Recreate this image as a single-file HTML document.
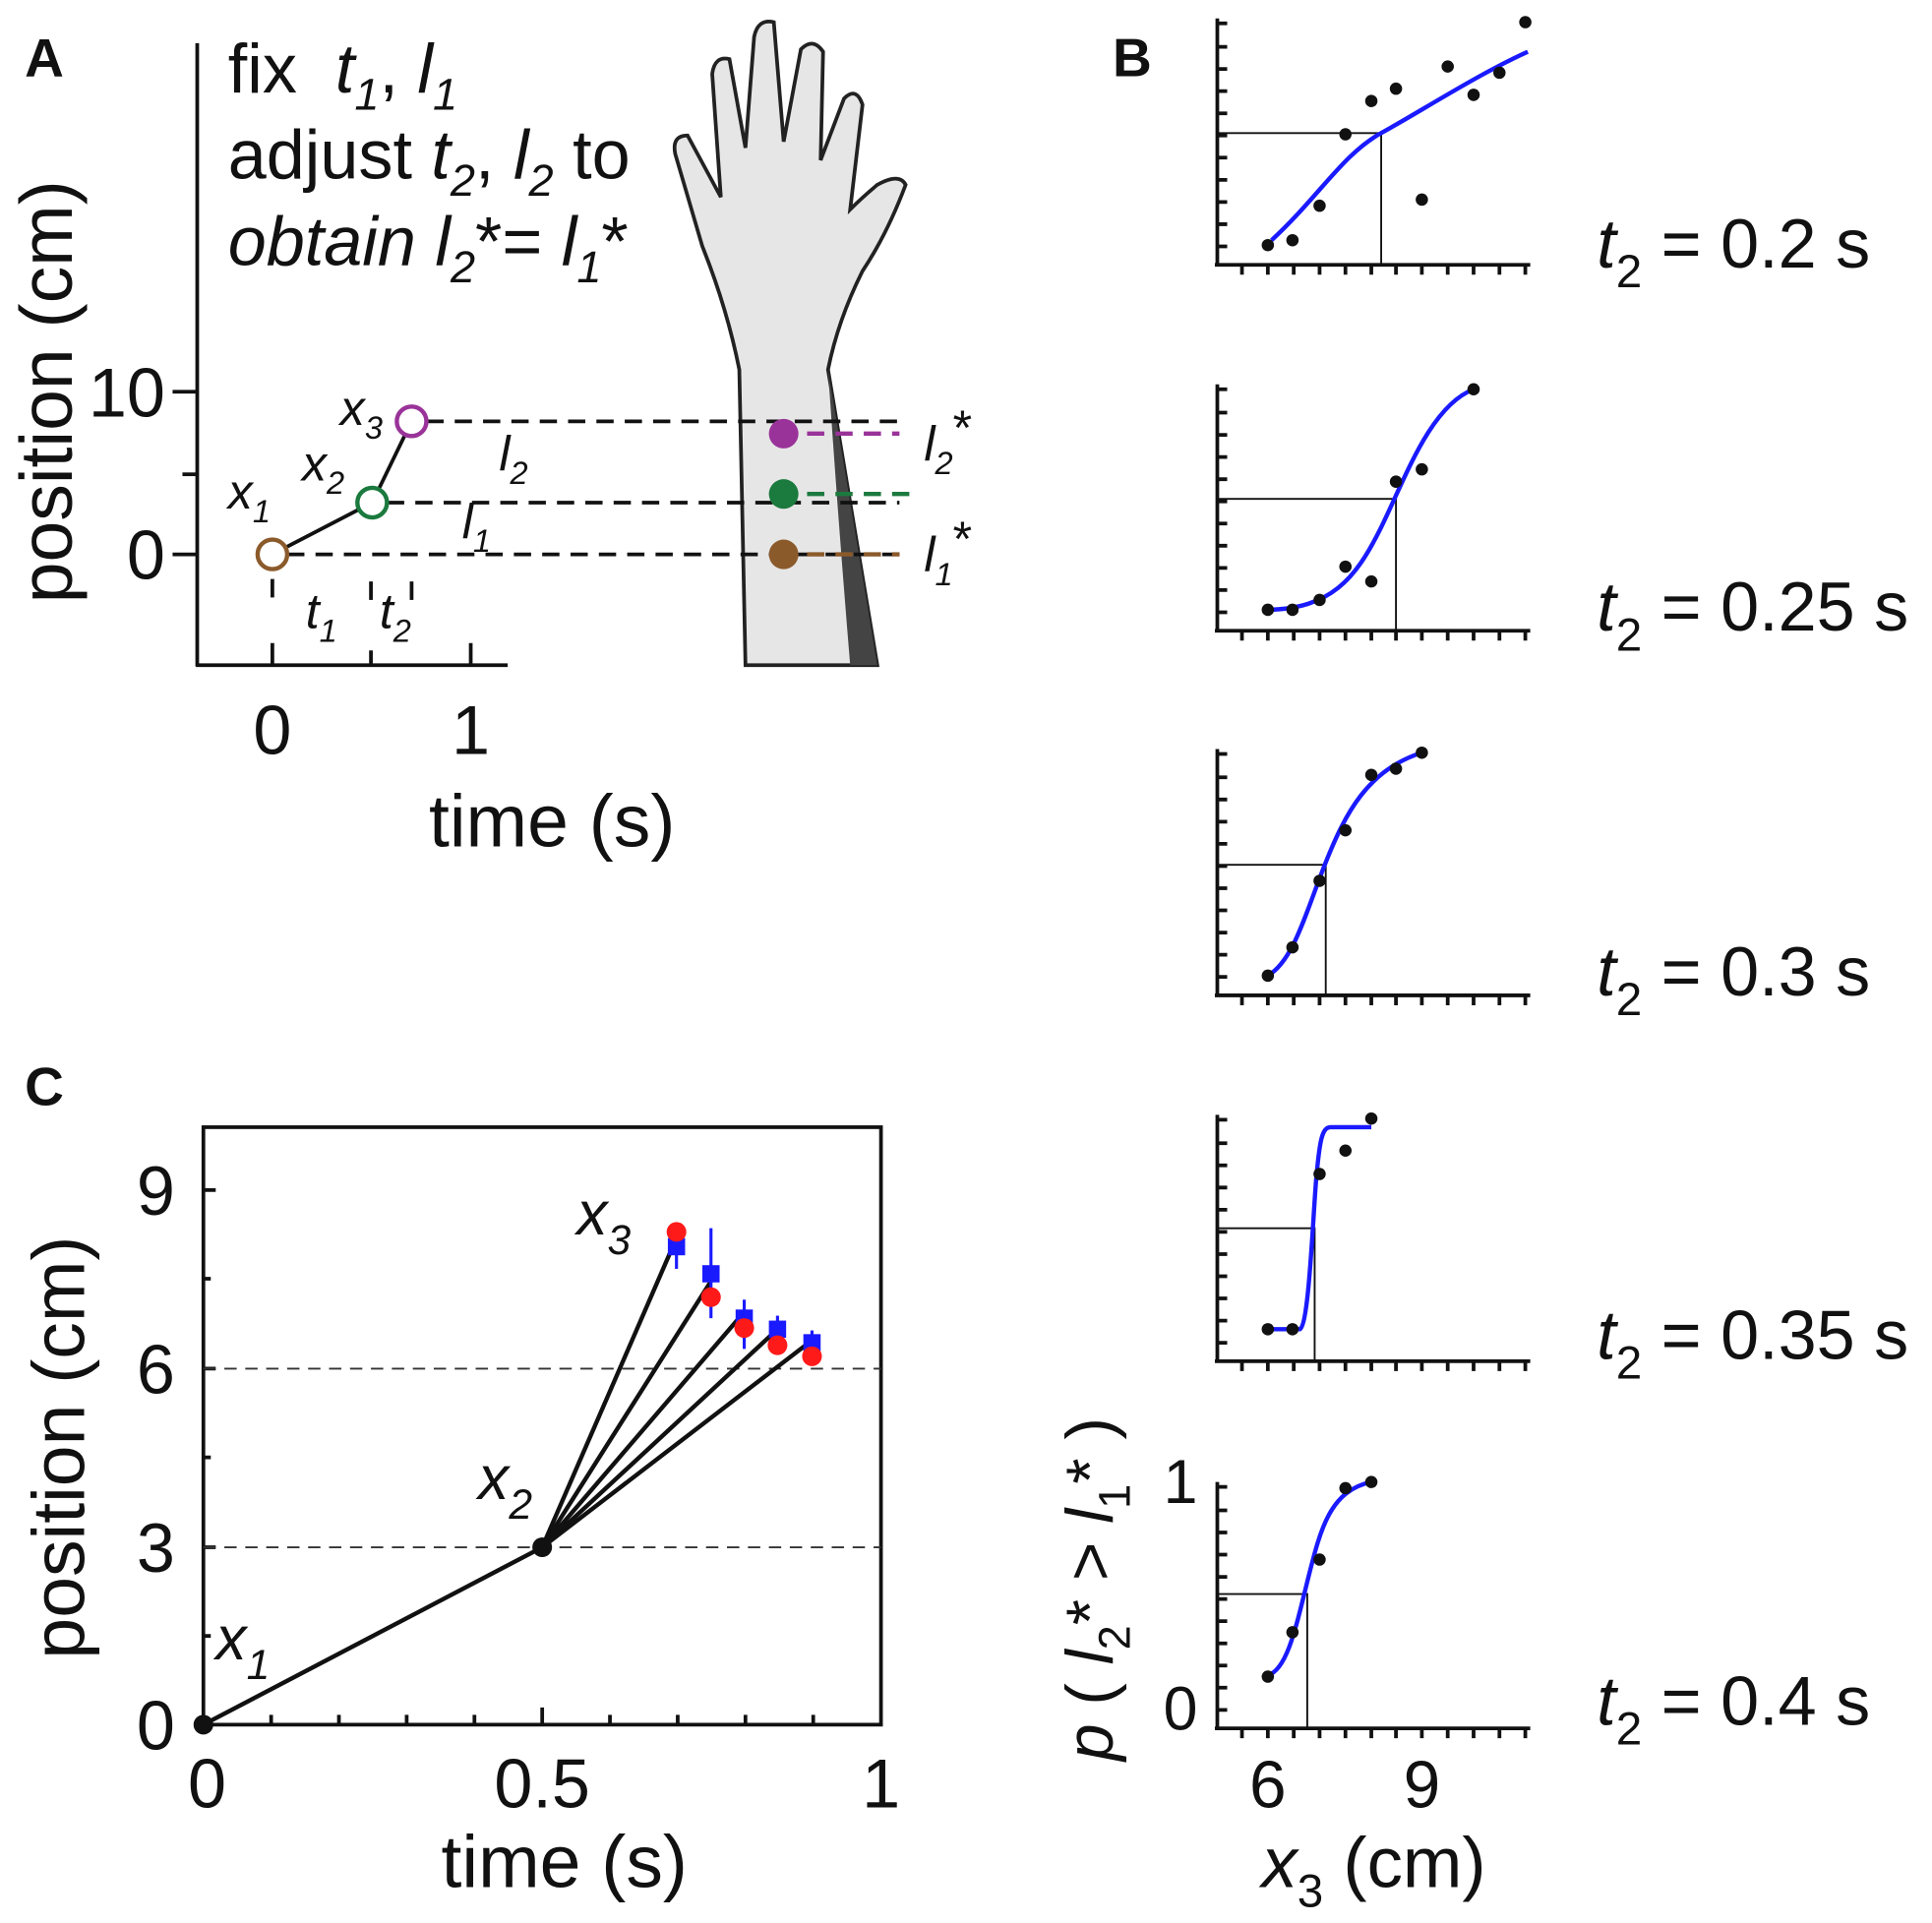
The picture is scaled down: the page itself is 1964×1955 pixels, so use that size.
<!DOCTYPE html>
<html><head><meta charset="utf-8"><style>
html,body{margin:0;padding:0;background:#fff}
svg{display:block}
text{font-family:"Liberation Sans",sans-serif;fill:#111}
</style></head><body>
<svg width="1964" height="1955" viewBox="0 0 1568 1561" xmlns="http://www.w3.org/2000/svg">
<text x="20" y="62" font-size="44" font-weight="bold">A</text>
<text x="903" y="62" font-size="44" font-weight="bold">B</text>
<text x="20" y="897" font-size="44" font-weight="bold">C</text>

<!-- ===== Panel A ===== -->
<g stroke="#111" stroke-width="3" fill="none">
<line x1="160" y1="35" x2="160" y2="541"/>
<line x1="159" y1="540" x2="412" y2="540"/>
<line x1="140" y1="318" x2="160" y2="318"/>
<line x1="148" y1="385" x2="160" y2="385"/>
<line x1="140" y1="450" x2="160" y2="450"/>
<line x1="221" y1="540" x2="221" y2="522"/>
<line x1="301" y1="540" x2="301" y2="528"/>
<line x1="382" y1="540" x2="382" y2="522"/>
<line x1="221" y1="470" x2="221" y2="485"/>
<line x1="301" y1="472" x2="301" y2="487"/>
<line x1="334" y1="472" x2="334" y2="487"/>
</g>
<text x="134" y="338" font-size="56" text-anchor="end">10</text>
<text x="134" y="470" font-size="56" text-anchor="end">0</text>
<text x="221" y="612" font-size="56" text-anchor="middle">0</text>
<text x="382" y="612" font-size="56" text-anchor="middle">1</text>
<text x="448" y="687" font-size="60" text-anchor="middle">time (s)</text>
<text transform="translate(58,318) rotate(-90)" font-size="60" text-anchor="middle">position (cm)</text>

<text x="185" y="75" font-size="56">fix &#160;<tspan font-style="italic">t</tspan><tspan font-size="36" dy="14" font-style="italic">1</tspan><tspan dy="-14">, </tspan><tspan font-style="italic">l</tspan><tspan font-size="36" dy="14" font-style="italic">1</tspan></text>
<text x="185" y="145" font-size="56">adjust <tspan font-style="italic">t</tspan><tspan font-size="36" dy="14" font-style="italic">2</tspan><tspan dy="-14">, </tspan><tspan font-style="italic">l</tspan><tspan font-size="36" dy="14" font-style="italic">2</tspan><tspan dy="-14"> to</tspan></text>
<text x="185" y="215" font-size="56" font-style="italic">obtain l<tspan font-size="36" dy="14">2</tspan><tspan dy="-14" font-style="normal">*= </tspan>l<tspan font-size="36" dy="14">1</tspan><tspan dy="-14" font-style="normal">*</tspan></text>

<!-- hand -->
<path d="M605,540 L600,300 Q590,250 570,200 L548,125 Q545,110 558,110 L585,160 L578,60 Q580,45 592,48 L605,120 L612,30 Q615,15 628,18 L636,115 L650,40 Q660,30 668,42 L666,130 L685,80 Q695,70 700,85 L690,170 Q700,160 712,150 Q730,140 735,150 Q720,190 700,220 Q680,260 672,300 L712,540 Z" fill="#e6e6e6" stroke="#222" stroke-width="3"/>
<path d="M672,300 L712,540 L690,540 Q680,420 672,300 Z" fill="#444"/>

<g stroke="#111" stroke-width="3" stroke-dasharray="14,9" fill="none">
<line x1="346" y1="342" x2="730" y2="342"/>
<line x1="314" y1="408" x2="730" y2="408"/>
<line x1="233" y1="450" x2="730" y2="450"/>
</g>
<line x1="655" y1="352" x2="730" y2="352" stroke="#993399" stroke-width="3.5" stroke-dasharray="14,9"/>
<line x1="655" y1="401" x2="738" y2="401" stroke="#1b7a3e" stroke-width="3.5" stroke-dasharray="14,9"/>
<line x1="655" y1="450" x2="730" y2="450" stroke="#8b5a2b" stroke-width="3.5" stroke-dasharray="14,9"/>
<line x1="221" y1="450" x2="302" y2="408" stroke="#111" stroke-width="3"/>
<line x1="302" y1="408" x2="334" y2="342" stroke="#111" stroke-width="3"/>
<circle cx="221" cy="450" r="12" fill="#fff" stroke="#8b5a2b" stroke-width="3.5"/>
<circle cx="302" cy="408" r="12" fill="#fff" stroke="#1b7a3e" stroke-width="3.5"/>
<circle cx="334" cy="342" r="12" fill="#fff" stroke="#993399" stroke-width="3.5"/>
<circle cx="636" cy="352" r="12" fill="#993399"/>
<circle cx="636" cy="401" r="12" fill="#1b7a3e"/>
<circle cx="636" cy="450" r="12" fill="#8b5a2b"/>
<g font-size="40" font-style="italic">
<text x="185" y="413">x<tspan font-size="26" dy="11">1</tspan></text>
<text x="245" y="390">x<tspan font-size="26" dy="11">2</tspan></text>
<text x="276" y="345">x<tspan font-size="26" dy="11">3</tspan></text>
<text x="405" y="382">l<tspan font-size="26" dy="11">2</tspan></text>
<text x="375" y="437">l<tspan font-size="26" dy="11">1</tspan></text>
<text x="248" y="510">t<tspan font-size="26" dy="11">1</tspan></text>
<text x="308" y="510">t<tspan font-size="26" dy="11">2</tspan></text>
<text x="750" y="374">l<tspan font-size="26" dy="11">2</tspan><tspan font-style="normal" dy="-24">*</tspan></text>
<text x="750" y="464">l<tspan font-size="26" dy="11">1</tspan><tspan font-style="normal" dy="-24">*</tspan></text>
</g>

<!-- ===== Panel B ===== -->
<defs>
<g id="bax" stroke="#111" stroke-width="3" fill="none">
<line x1="988" y1="0" x2="988" y2="200"/>
<line x1="986" y1="200" x2="1242" y2="200"/>
<path d="M988,4h8M988,23h8M988,41h8M988,59h8M988,77h8M988,95h8M988,113h8M988,131h8M988,149h8M988,167h8M988,185h8"/>
<path d="M1008,200v8M1029,200v8M1050,200v8M1071,200v8M1092,200v8M1113,200v8M1133,200v8M1154,200v8M1175,200v8M1196,200v8M1217,200v8M1238,200v8"/>
</g>
</defs>
<use href="#bax" y="15"/>
<use href="#bax" y="312"/>
<use href="#bax" y="608"/>
<use href="#bax" y="905"/>
<use href="#bax" y="1203"/>

<g stroke="#111" stroke-width="1.5" fill="none">
<path d="M988,108H1121V215"/>
<path d="M988,405H1133V512"/>
<path d="M988,702H1076V808"/>
<path d="M988,997H1067V1105"/>
<path d="M988,1294H1061V1403"/>
</g>
<g stroke="#1a1aff" stroke-width="3.5" fill="none">
<path d="M1032,195 C1070,160 1090,125 1121,108 S1200,60 1240,42"/>
<path d="M1029,495 C1080,494 1100,470 1120,430 S1160,330 1196,316"/>
<path d="M1029,792 C1050,780 1060,740 1076,700 S1110,625 1154,611"/>
<path d="M1029,1079 L1055,1079 C1062,1075 1065,1000 1068,960 C1071,925 1073,915 1080,915 L1113,915"/>
<path d="M1029,1360 C1045,1355 1052,1320 1062,1280 S1080,1210 1113,1203"/>
</g>
<g fill="#111">
<circle cx="1029" cy="199" r="5"/><circle cx="1049" cy="195" r="5"/><circle cx="1071" cy="167" r="5"/><circle cx="1092" cy="109" r="5"/><circle cx="1113" cy="82" r="5"/><circle cx="1133" cy="72" r="5"/><circle cx="1154" cy="162" r="5"/><circle cx="1175" cy="54" r="5"/><circle cx="1196" cy="77" r="5"/><circle cx="1217" cy="59" r="5"/><circle cx="1238" cy="18" r="5"/>
<circle cx="1029" cy="495" r="5"/><circle cx="1049" cy="495" r="5"/><circle cx="1071" cy="487" r="5"/><circle cx="1092" cy="460" r="5"/><circle cx="1113" cy="472" r="5"/><circle cx="1133" cy="391" r="5"/><circle cx="1154" cy="381" r="5"/><circle cx="1196" cy="316" r="5"/>
<circle cx="1029" cy="792" r="5"/><circle cx="1049" cy="769" r="5"/><circle cx="1071" cy="715" r="5"/><circle cx="1092" cy="674" r="5"/><circle cx="1113" cy="629" r="5"/><circle cx="1133" cy="624" r="5"/><circle cx="1154" cy="611" r="5"/>
<circle cx="1029" cy="1079" r="5"/><circle cx="1049" cy="1079" r="5"/><circle cx="1071" cy="953" r="5"/><circle cx="1092" cy="934" r="5"/><circle cx="1113" cy="908" r="5"/>
<circle cx="1029" cy="1361" r="5"/><circle cx="1049" cy="1325" r="5"/><circle cx="1071" cy="1266" r="5"/><circle cx="1092" cy="1208" r="5"/><circle cx="1113" cy="1203" r="5"/>
</g>
<g font-size="56">
<text x="1296" y="217"><tspan font-style="italic">t</tspan><tspan font-size="38" dy="16">2</tspan><tspan dy="-16"> = 0.2 s</tspan></text>
<text x="1296" y="512"><tspan font-style="italic">t</tspan><tspan font-size="38" dy="16">2</tspan><tspan dy="-16"> = 0.25 s</tspan></text>
<text x="1296" y="808"><tspan font-style="italic">t</tspan><tspan font-size="38" dy="16">2</tspan><tspan dy="-16"> = 0.3 s</tspan></text>
<text x="1296" y="1103"><tspan font-style="italic">t</tspan><tspan font-size="38" dy="16">2</tspan><tspan dy="-16"> = 0.35 s</tspan></text>
<text x="1296" y="1400"><tspan font-style="italic">t</tspan><tspan font-size="38" dy="16">2</tspan><tspan dy="-16"> = 0.4 s</tspan></text>
</g>
<text x="972" y="1220" font-size="50" text-anchor="end">1</text>
<text x="972" y="1404" font-size="50" text-anchor="end">0</text>
<text x="1029" y="1467" font-size="54" text-anchor="middle">6</text>
<text x="1154" y="1467" font-size="54" text-anchor="middle">9</text>
<text x="1115" y="1532" font-size="58" text-anchor="middle"><tspan font-style="italic">x</tspan><tspan font-size="38" dy="16">3</tspan><tspan dy="-16"> (cm)</tspan></text>
<text transform="translate(903,1290) rotate(-90)" font-size="54" text-anchor="middle"><tspan font-style="italic">p</tspan> ( <tspan font-style="italic">l</tspan><tspan font-size="36" dy="14">2</tspan><tspan dy="-14">* &gt; </tspan><tspan font-style="italic">l</tspan><tspan font-size="36" dy="14">1</tspan><tspan dy="-14">* )</tspan></text>

<!-- ===== Panel C ===== -->
<rect x="165" y="915" width="550" height="485" fill="none" stroke="#111" stroke-width="3"/>
<g stroke="#111" stroke-width="3">
<path d="M165,966h10M165,1111h10M165,1256h10M165,1038h6M165,1183h6M165,1328h6"/>
<path d="M220,1400v-8M275,1400v-8M330,1400v-8M385,1400v-8M440,1400v-14M495,1400v-8M550,1400v-8M605,1400v-8M660,1400v-8"/>
</g>
<g stroke="#333" stroke-width="1.5" stroke-dasharray="10,7">
<line x1="165" y1="1111" x2="715" y2="1111"/>
<line x1="165" y1="1256" x2="715" y2="1256"/>
</g>
<g stroke="#111" stroke-width="3.5">
<line x1="165" y1="1400" x2="440" y2="1256"/>
<line x1="440" y1="1256" x2="549" y2="1005"/>
<line x1="440" y1="1256" x2="577" y2="1040"/>
<line x1="440" y1="1256" x2="604" y2="1065"/>
<line x1="440" y1="1256" x2="631" y2="1079"/>
<line x1="440" y1="1256" x2="659" y2="1088"/>
</g>
<circle cx="165" cy="1400" r="8" fill="#111"/>
<circle cx="440" cy="1256" r="8" fill="#111"/>
<g stroke="#1a1aff" stroke-width="2.5">
<line x1="549" y1="995" x2="549" y2="1030"/>
<line x1="577" y1="997" x2="577" y2="1070"/>
<line x1="604" y1="1055" x2="604" y2="1095"/>
<line x1="631" y1="1068" x2="631" y2="1090"/>
<line x1="659" y1="1080" x2="659" y2="1100"/>
</g>
<g fill="#1a1aff">
<rect x="542" y="1005" width="14" height="14"/>
<rect x="570" y="1027" width="14" height="14"/>
<rect x="597" y="1063" width="14" height="14"/>
<rect x="624" y="1072" width="14" height="14"/>
<rect x="652" y="1083" width="14" height="14"/>
</g>
<g fill="#ff1a1a">
<circle cx="549" cy="1000" r="8"/>
<circle cx="577" cy="1053" r="8"/>
<circle cx="604" cy="1078" r="8"/>
<circle cx="631" cy="1092" r="8"/>
<circle cx="659" cy="1101" r="8"/>
</g>
<g font-size="50" font-style="italic">
<text x="468" y="1002">x<tspan font-size="34" dy="16">3</tspan></text>
<text x="388" y="1217">x<tspan font-size="34" dy="16">2</tspan></text>
<text x="175" y="1347">x<tspan font-size="34" dy="16">1</tspan></text>
</g>
<g font-size="56">
<text x="142" y="986" text-anchor="end">9</text>
<text x="142" y="1131" text-anchor="end">6</text>
<text x="142" y="1276" text-anchor="end">3</text>
<text x="142" y="1420" text-anchor="end">0</text>
<text x="168" y="1467" text-anchor="middle">0</text>
<text x="440" y="1467" text-anchor="middle">0.5</text>
<text x="715" y="1467" text-anchor="middle">1</text>
<text x="458" y="1532" font-size="60" text-anchor="middle">time (s)</text>
<text transform="translate(68,1175) rotate(-90)" font-size="60" text-anchor="middle">position (cm)</text>
</g>
</svg>
</body></html>
